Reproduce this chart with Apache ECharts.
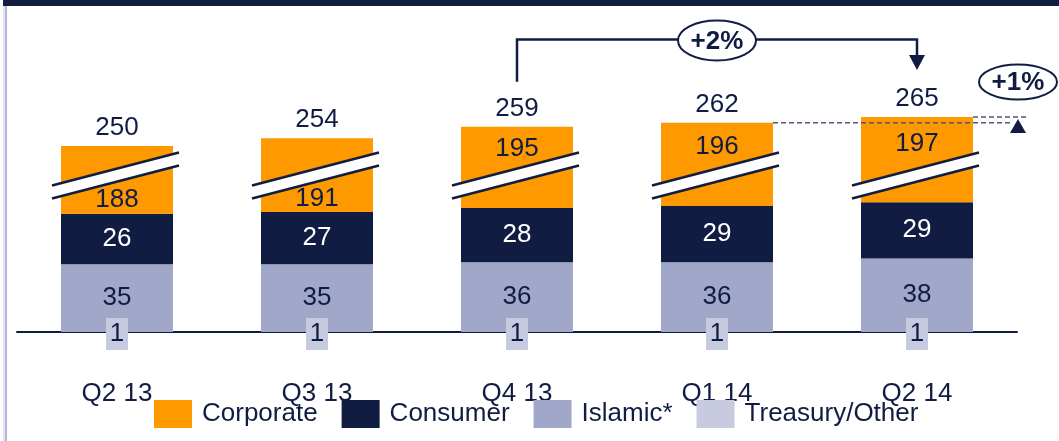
<!DOCTYPE html>
<html>
<head>
<meta charset="utf-8">
<title>Segments by quarter</title>
<script src="https://cdn.jsdelivr.net/npm/echarts@6/dist/echarts.min.js"></script>
<style>html,body{margin:0;padding:0;background:#fff;}</style>
</head>
<body>
<div id="main" style="width:1059px;height:441px;"></div>
<script>
// data
var quarters  = ['Q2 13', 'Q3 13', 'Q4 13', 'Q1 14', 'Q2 14'];
var corporate = [188, 191, 195, 196, 197];
var consumer  = [26, 27, 28, 29, 29];
var islamic   = [35, 35, 36, 36, 38];
var treasury  = [1, 1, 1, 1, 1];
var totals    = [250, 254, 259, 262, 265];   // as printed (rounded)
var growthLong  = '+2%';   // Q4 13 -> Q2 14
var growthShort = '+1%';   // Q1 14 -> Q2 14

var BREAK = 153;      // part of corporate cut out by the axis break
var BREAK_AT = 81;    // where the break marks sit on the value axis
var NAVY = '#111c42';
var FONT = '"Liberation Sans", Arial, sans-serif';
var FS = 26;

var drawnTop = quarters.map(function (q, i) {
    return islamic[i] + consumer[i] + corporate[i] - BREAK;
});

var myChart = echarts.init(document.getElementById('main'));

// break marks + corporate value labels
function renderBreak(params, api) {
    var i = api.value(0);
    var c = api.coord([i, BREAK_AT]);
    var cx = c[0], cy = c[1];
    var l = cx - 65, r = cx + 62, s = -0.26;
    var uL = cy - 6.5 + s * (l - cx), uR = cy - 6.5 + s * (r - cx);
    var dL = uL + 13, dR = uR + 13;
    var top = api.coord([i, drawnTop[i]])[1];
    var base = api.coord([i, islamic[i] + consumer[i]])[1];
    var ty = i < 2 ? (cy + 7.5 + base) / 2 : (top + cy - 7.5) / 2;
    return {
        type: 'group',
        children: [
            {type: 'polygon', shape: {points: [[l, uL], [r, uR], [r, dR], [l, dL]]}, style: {fill: '#fff'}},
            {type: 'line', shape: {x1: l, y1: uL, x2: r, y2: uR}, style: {stroke: NAVY, lineWidth: 2.5}},
            {type: 'line', shape: {x1: l, y1: dL, x2: r, y2: dR}, style: {stroke: NAVY, lineWidth: 2.5}},
            {type: 'text', x: cx, y: ty + 2, style: {text: String(corporate[i]), fill: NAVY, font: FS + 'px ' + FONT, align: 'center', verticalAlign: 'middle'}}
        ]
    };
}

// growth call-outs
function renderNotes(params, api) {
    var x3 = api.coord([2, 0])[0], x4 = api.coord([3, 0])[0], x5 = api.coord([4, 0])[0];
    var t3 = api.coord([2, drawnTop[2]])[1];
    var t4 = api.coord([3, drawnTop[3]])[1];
    var t5 = api.coord([4, drawnTop[4]])[1];
    var yb = api.coord([0, 151])[1];
    var xa = x5 + 101;
    return {
        type: 'group',
        children: [
            {type: 'polyline', shape: {points: [[x3, t3 - 45], [x3, yb], [x5, yb], [x5, t5 - 62]]}, style: {stroke: NAVY, lineWidth: 2.5, fill: null}},
            {type: 'polygon', shape: {points: [[x5 - 8, t5 - 62], [x5 + 8, t5 - 62], [x5, t5 - 47]]}, style: {fill: NAVY}},
            {type: 'ellipse', shape: {cx: (x3 + x5) / 2, cy: yb + 1, rx: 39, ry: 20}, style: {fill: '#fff', stroke: NAVY, lineWidth: 2}},
            {type: 'text', x: (x3 + x5) / 2, y: yb + 2, style: {text: growthLong, fill: NAVY, font: 'bold 26px ' + FONT, align: 'center', verticalAlign: 'middle'}},
            {type: 'line', shape: {x1: x4 + 56, y1: t4, x2: xa - 5, y2: t4}, style: {stroke: '#4f567a', lineWidth: 1.5, lineDash: [5, 3]}},
            {type: 'line', shape: {x1: x5 + 56, y1: t5, x2: xa + 9, y2: t5}, style: {stroke: '#4f567a', lineWidth: 1.5, lineDash: [5, 3]}},
            {type: 'polygon', shape: {points: [[xa, t5 + 2], [xa + 8, t5 + 16], [xa - 8, t5 + 16]]}, style: {fill: NAVY}},
            {type: 'ellipse', shape: {cx: xa, cy: t5 - 35, rx: 39, ry: 17.5}, style: {fill: '#fff', stroke: NAVY, lineWidth: 2}},
            {type: 'text', x: xa, y: t5 - 34, style: {text: growthShort, fill: NAVY, font: 'bold 26px ' + FONT, align: 'center', verticalAlign: 'middle'}}
        ]
    };
}

var option = {
    animation: false,
    textStyle: {fontFamily: FONT},
    graphic: [
        {type: 'rect', shape: {x: 3, y: 0, width: 1056, height: 6}, style: {fill: NAVY}},
        {type: 'rect', shape: {x: 3, y: 6, width: 2, height: 435}, style: {fill: '#e4e5ef'}},
        {type: 'rect', shape: {x: 5, y: 6, width: 2, height: 435}, style: {fill: '#b3b7da'}}
    ],
    grid: {left: 17, right: 42, top: 22, bottom: 109, containLabel: false, outerBoundsMode: 'none'},
    legend: {
        data: ['Corporate', 'Consumer', 'Islamic*', 'Treasury/Other'],
        left: 154, top: 397, padding: 0,
        icon: 'rect',
        itemWidth: 38, itemHeight: 28, itemGap: 24,
        textStyle: {fontSize: FS, color: NAVY, lineHeight: 28, padding: [6, 0, 0, 5], fontFamily: FONT}
    },
    xAxis: {
        type: 'category',
        data: quarters,
        axisLine: {lineStyle: {color: NAVY, width: 2}},
        axisTick: {show: false},
        axisLabel: {fontSize: FS, color: NAVY, margin: 49, fontFamily: FONT}
    },
    yAxis: {type: 'value', min: 0, max: 160, show: false, splitLine: {show: false}},
    series: [
        {
            name: 'Islamic*', type: 'bar', stack: 'seg', barWidth: 112,
            itemStyle: {color: '#a1a7c9'},
            label: {show: true, position: 'inside', fontSize: FS, color: NAVY, fontFamily: FONT},
            data: islamic
        },
        {
            name: 'Consumer', type: 'bar', stack: 'seg', barWidth: 112,
            itemStyle: {color: NAVY},
            label: {show: true, position: 'inside', fontSize: FS, color: '#fff', fontFamily: FONT},
            data: consumer
        },
        {
            name: 'Corporate', type: 'bar', stack: 'seg', barWidth: 112,
            itemStyle: {color: '#fe9900'},
            data: corporate.map(function (v) { return v - BREAK; })
        },
        {
            name: 'Treasury/Other', type: 'scatter', symbol: 'rect', symbolSize: [22, 32], symbolOffset: [0, 2], z: 5,
            itemStyle: {color: '#c8cbe0', opacity: 1},
            label: {show: true, position: 'inside', fontSize: FS, color: NAVY, opacity: 1, fontFamily: FONT,
                formatter: function (p) { return treasury[p.dataIndex]; }},
            data: treasury.map(function (v, i) { return [i, 0]; })
        },
        {
            name: 'total', type: 'scatter', symbolSize: 0, silent: true,
            itemStyle: {opacity: 1},
            label: {show: true, position: 'top', distance: 5, fontSize: FS, color: NAVY, opacity: 1, fontFamily: FONT,
                formatter: function (p) { return totals[p.dataIndex]; }},
            data: drawnTop.map(function (v, i) { return [i, v]; })
        },
        {
            name: 'break', type: 'custom', z: 4, silent: true,
            renderItem: renderBreak,
            encode: {x: 0, y: 1},
            data: quarters.map(function (q, i) { return [i, BREAK_AT]; })
        },
        {
            name: 'notes', type: 'custom', z: 6, silent: true, clip: false,
            renderItem: renderNotes,
            encode: {x: 0, y: 1},
            data: [[0, 0]]
        }
    ]
};

myChart.setOption(option);
</script>
</body>
</html>
